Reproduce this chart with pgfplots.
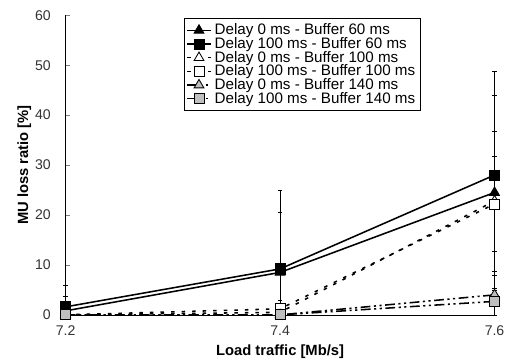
\documentclass[border=0pt]{standalone}
\usepackage{pgfplots}
\pgfplotsset{compat=1.18}
\usepackage{fontspec}
\setmainfont{Liberation Sans}
\begin{document}
\begin{tikzpicture}
\begin{axis}[
  scale only axis,
  width=305pt, height=213pt,
  xmin=7.2, xmax=7.6, ymin=0, ymax=60,
  axis x line=bottom, axis y line=left,
  axis line style={-, thin},
  xtick={7.2,7.4,7.6}, ytick={0,10,...,60},
  xticklabel style={/pgf/number format/fixed, /pgf/number format/precision=1, yshift=-4pt},
  yticklabel style={xshift=-7pt},
  /pgf/number format/assume math mode=true,
  tick align=inside, major tick length=3pt,
  tick label style={font=\fontsize{10}{10}\selectfont, text=black!80},
  xlabel={\textbf{Load traffic [Mb/s]}},
  ylabel={\textbf{MU loss ratio [\%]}},
  label style={font=\fontsize{10.5}{11}\selectfont},
  xlabel style={yshift=0pt},
  ylabel style={yshift=-4pt},
  clip=false,
  legend style={at={(0.275,0.99)}, anchor=north west, draw=black, thick,
    font=\fontsize{10.8}{10.8}\selectfont, row sep=-3.6pt, inner sep=1.5pt,
    cells={anchor=west}},
  error bars/error bar style={thin, black, solid},
  error bars/error mark options={rotate=90, mark size=1.5pt, black, solid},
]
% Delay 0 - Buffer 60
\addplot[black, line width=1.1pt, mark=triangle*, mark size=4pt, mark options={fill=black, solid, line width=0.6pt},
  error bars/.cd, y dir=both, y explicit]
  coordinates {(7.2,0.8) += (0,3) -= (0,0.8) (7.4,8.5) += (0,12) -= (0,5.5) (7.6,24.5) += (0,19.5) -= (0,19.5)};
\addlegendentry{Delay 0 ms - Buffer 60 ms}
% Delay 100 - Buffer 60
\addplot[black, line width=1.1pt, mark=square*, mark size=3.6pt, mark options={fill=black, solid, line width=0.6pt},
  error bars/.cd, y dir=both, y explicit]
  coordinates {(7.2,1.6) += (0,4.3) -= (0,1.6) (7.4,9.2) += (0,15.8) -= (0,9.2) (7.6,28) += (0,20.8) -= (0,28)};
\addlegendentry{Delay 100 ms - Buffer 60 ms}
% Delay 0 - Buffer 100
\addplot[black, line width=1.1pt, dash pattern=on 2.5pt off 5pt, mark=triangle*, mark size=4pt, mark options={fill=white, solid, line width=0.6pt},
  error bars/.cd, y dir=both, y explicit]
  coordinates {(7.2,0) += (0,0) -= (0,0) (7.4,0.5) += (0,1.5) -= (0,0.5) (7.6,22.8) += (0,14) -= (0,14)};
\addlegendentry{Delay 0 ms - Buffer 100 ms}
% Delay 100 - Buffer 100
\addplot[black, line width=1.1pt, dash pattern=on 2.5pt off 5pt, mark=square*, mark size=3.6pt, mark options={fill=white, solid, line width=0.6pt},
  error bars/.cd, y dir=both, y explicit]
  coordinates {(7.2,0) += (0,0) -= (0,0) (7.4,1.2) += (0,1.8) -= (0,1.2) (7.6,22.2) += (0,9.5) -= (0,9.5)};
\addlegendentry{Delay 100 ms - Buffer 100 ms}
% Delay 0 - Buffer 140
\addplot[black, line width=1.1pt, dash pattern=on 7pt off 2.5pt on 1.5pt off 2.5pt on 1.5pt off 2.5pt, mark=triangle*, mark size=4pt, mark options={fill=black!25, solid, line width=0.6pt},
  error bars/.cd, y dir=both, y explicit]
  coordinates {(7.2,0) += (0,0) -= (0,0) (7.4,0) += (0,0) -= (0,0) (7.6,4) += (0,4) -= (0,4)};
\addlegendentry{Delay 0 ms - Buffer 140 ms}
% Delay 100 - Buffer 140
\addplot[black, line width=1.1pt, dash pattern=on 7pt off 2.5pt on 1.5pt off 2.5pt on 1.5pt off 2.5pt, mark=square*, mark size=3.6pt, mark options={fill=black!25, solid, line width=0.6pt},
  error bars/.cd, y dir=both, y explicit]
  coordinates {(7.2,0) += (0,0) -= (0,0) (7.4,0) += (0,0) -= (0,0) (7.6,2.7) += (0,2.7) -= (0,2.7)};
\addlegendentry{Delay 100 ms - Buffer 140 ms}
\end{axis}
\path (current bounding box.west) ++(-9pt,0) coordinate (padleft);
\path (current bounding box.north) ++(0,4pt) coordinate (padtop);
\path[use as bounding box] (current bounding box.south east) rectangle (padleft |- padtop);
\end{tikzpicture}
\end{document}
